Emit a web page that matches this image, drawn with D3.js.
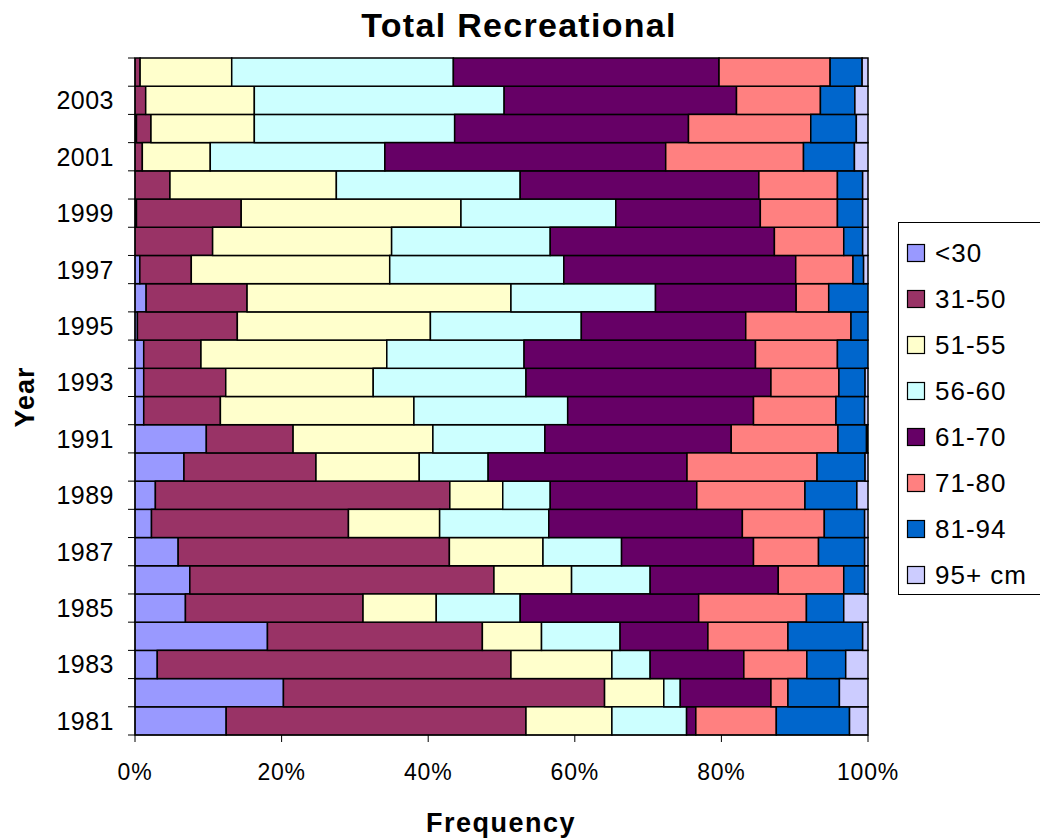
<!DOCTYPE html>
<html><head><meta charset="utf-8">
<script src="https://cdn.jsdelivr.net/npm/d3@7"></script>
<style>body{margin:0;background:#fff}svg{display:block;font-family:"Liberation Sans",Arial,sans-serif}</style>
</head><body><svg id="c" width="1040" height="840"></svg>
<script>
const years = [1981,1982,1983,1984,1985,1986,1987,1988,1989,1990,1991,1992,1993,1994,1995,1996,1997,1998,1999,2000,2001,2002,2003,2004];
const seriesNames = ["<30","31-50","51-55","56-60","61-70","71-80","81-94","95+ cm"];
const colors = ["#9999FF","#993366","#FFFFCC","#CCFFFF","#660066","#FF8080","#0066CC","#CCCCFF"];
const lt30   = [12.44,20.25,3.04,18.07,6.88,7.48,5.89,2.25,2.78,6.68,9.73,1.19,1.19,1.19,0.33,1.52,0.66,0,0.2,0,0,0.2,0,0];
const s31_50 = [40.9,43.81,48.25,29.32,24.23,41.49,37.0,26.87,40.17,18.01,11.84,10.46,11.19,7.81,13.63,13.77,7.02,10.59,14.29,4.77,1.0,1.98,1.46,0.7];
const s51_55 = [11.72,8.08,13.77,8.07,9.99,10.59,12.77,12.44,7.22,14.09,19.07,26.4,20.12,25.35,26.34,36.0,27.07,24.42,29.98,22.7,9.27,14.1,14.82,12.5];
const s56_60 = [10.19,2.25,5.22,10.72,11.45,10.72,10.72,14.89,6.48,9.4,15.28,20.98,20.84,18.73,20.59,19.72,23.75,21.64,21.12,25.08,23.82,27.33,34.08,30.25];
const s61_70 = [1.26,12.37,12.78,11.98,24.35,17.48,18.0,26.41,19.99,27.13,25.42,25.35,33.42,31.57,22.43,19.19,31.64,30.58,19.72,32.56,38.32,31.9,31.7,36.26];
const s71_80 = [10.98,2.32,8.6,10.92,14.7,8.93,8.87,11.18,14.76,17.74,14.56,11.25,9.27,11.18,14.36,4.44,7.81,9.46,10.52,10.72,18.8,16.68,11.45,15.16];
const s81_94 = [9.99,7.02,5.3,10.19,5.09,2.85,6.29,5.5,7.08,6.55,3.9,3.91,3.57,4.17,2.32,5.36,1.45,2.58,3.44,3.44,6.95,6.22,4.7,4.37];
const s95p   = [2.52,3.9,3.04,0.73,3.31,0.46,0.46,0.46,1.52,0.4,0.2,0.46,0.4,0,0,0,0.6,0.73,0.73,0.73,1.85,1.59,1.79,0.8];
const xTicks = [0,0.2,0.4,0.6,0.8,1.0];

const allSeries = [lt30,s31_50,s51_55,s56_60,s61_70,s71_80,s81_94,s95p];
const table = years.map((y,i)=>{
  const row = {year:y};
  let tot = 0; allSeries.forEach(s=>tot+=s[i]);
  seriesNames.forEach((n,k)=>row[n]=allSeries[k][i]/tot);
  return row;
});
const stacked = d3.stack().keys(seriesNames)(table);

const svg = d3.select("#c");
const L=135,R=868,T=58,B=735;
const x = d3.scaleLinear().domain([0,1]).range([L,R]);
const y = d3.scaleBand().domain(years.slice().reverse()).range([T,B]).padding(0);

svg.append("text").attr("x",519).attr("y",37).attr("text-anchor","middle")
  .attr("font-size",34).attr("font-weight","bold").attr("letter-spacing",1.3).text("Total Recreational");

const g = svg.append("g");
stacked.forEach((layer,k)=>{
  g.selectAll(null).data(layer).enter().append("rect")
    .attr("x",d=>x(d[0])).attr("width",d=>Math.max(0,x(d[1])-x(d[0])))
    .attr("y",d=>y(d.data.year)).attr("height",y.bandwidth())
    .attr("fill",colors[k]).attr("stroke","#000").attr("stroke-width",1.5);
});

// y axis
const yAx = svg.append("g").attr("transform",`translate(${L},0)`);
yAx.append("line").attr("x1",0).attr("x2",0).attr("y1",T).attr("y2",B).attr("stroke","#000");
const bounds = d3.range(years.length+1).map(i=>T+i*y.bandwidth());
yAx.selectAll(".yt").data(bounds).enter().append("line")
  .attr("x1",-7).attr("x2",0).attr("y1",d=>d).attr("y2",d=>d).attr("stroke","#000");
yAx.selectAll(".yl").data(years.filter(v=>v%2===1)).enter().append("text")
  .attr("x",-21).attr("y",d=>y(d)+y.bandwidth()/2+9).attr("text-anchor","end")
  .attr("font-size",25).attr("letter-spacing",0.5).text(d=>d);

// x axis
const xAx = svg.append("g").attr("transform",`translate(0,${B})`);
xAx.append("line").attr("x1",L).attr("x2",R).attr("stroke","#000");
xAx.selectAll(".xt").data(xTicks).enter().append("line")
  .attr("x1",d=>x(d)).attr("x2",d=>x(d)).attr("y1",0).attr("y2",7).attr("stroke","#000");
xAx.selectAll(".xl").data(xTicks).enter().append("text")
  .attr("x",d=>x(d)).attr("y",45).attr("text-anchor","middle").attr("font-size",23).attr("letter-spacing",0.8)
  .text(d=>d3.format(".0%")(d));

svg.append("text").attr("x",501).attr("y",832).attr("text-anchor","middle")
  .attr("font-size",27).attr("font-weight","bold").attr("letter-spacing",1.5).text("Frequency");
svg.append("text").attr("transform","translate(34,397) rotate(-90)").attr("text-anchor","middle")
  .attr("font-size",27).attr("font-weight","bold").attr("letter-spacing",1).text("Year");

// legend
const lg = svg.append("g");
lg.append("rect").attr("x",898.5).attr("y",222.5).attr("width",145).attr("height",372)
  .attr("fill","#fff").attr("stroke","#000").attr("stroke-width",1);
seriesNames.forEach((n,k)=>{
  const cy = 253 + k*46;
  lg.append("rect").attr("x",907.5).attr("y",cy-8.5).attr("width",17).attr("height",17)
    .attr("fill",colors[k]).attr("stroke","#000").attr("stroke-width",1.2);
  lg.append("text").attr("x",935).attr("y",cy+9).attr("font-size",26).attr("letter-spacing",1).text(n);
});
</script></body></html>
